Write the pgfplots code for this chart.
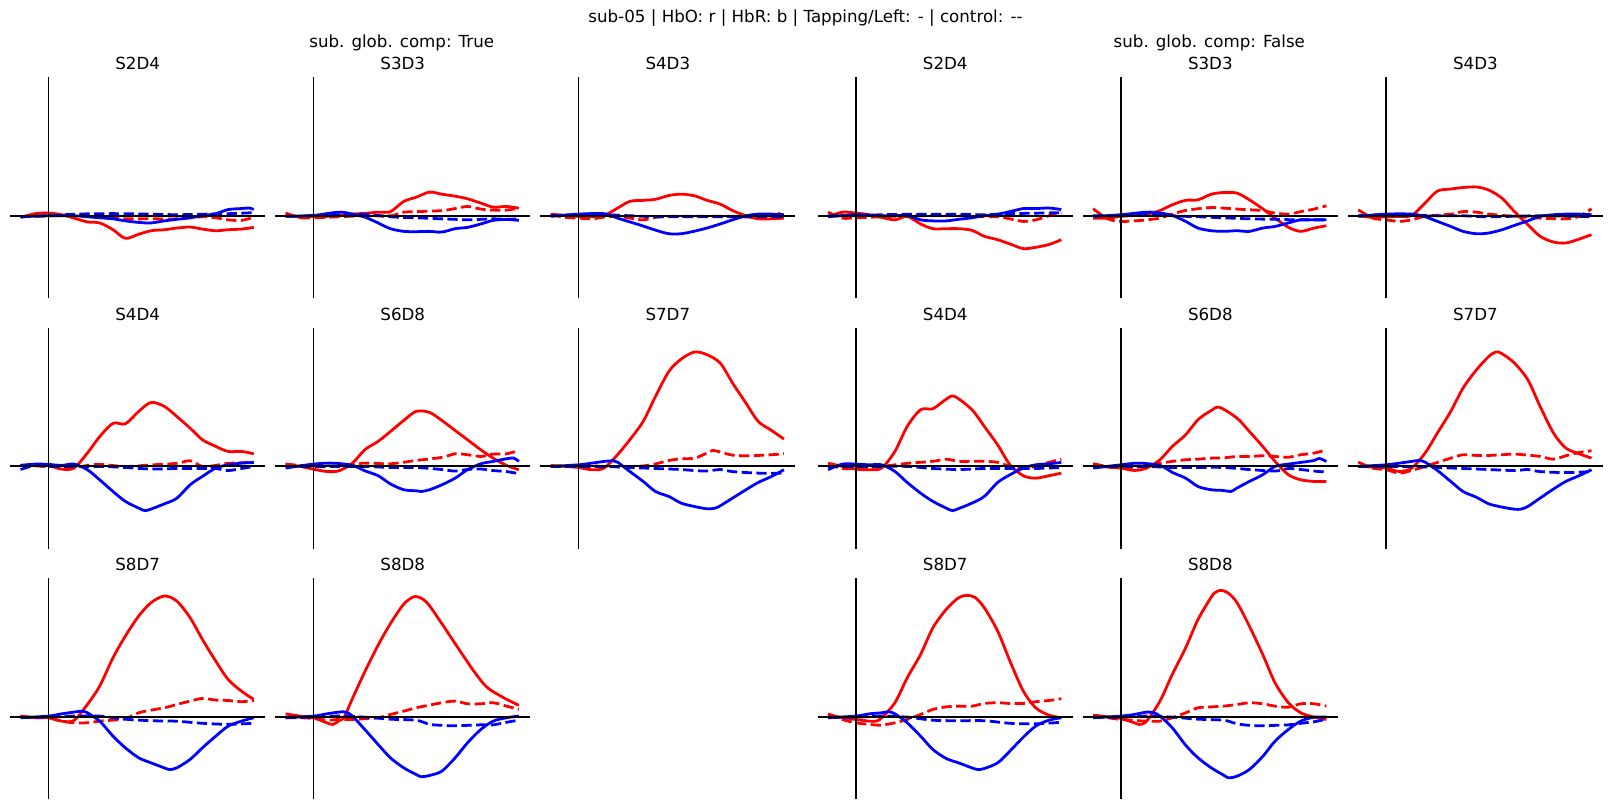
\documentclass[border=0pt]{standalone}
\usepackage{fontspec}
\setmainfont{DejaVu Sans}
\usepackage{pgfplots}
\pgfplotsset{compat=1.18}
\pgfplotsset{
  panel/.style={width=183.45pt,height=159.04pt,scale only axis,
    xmin=-37,xmax=211,ymin=-80,ymax=135,hide axis,clip=false,anchor=south west,
    title style={at={(0.5,1)},anchor=base,yshift=-0.6pt,inner sep=0pt,font=\fontsize{12}{14}\selectfont}},
  hbo/.style={color=red,line width=2pt,smooth},
  hbr/.style={color=blue,line width=2pt,smooth},
  ctl/.style={dash pattern=on 7.4pt off 3.2pt},
  hz/.style={black,line width=1.5pt},
  vt/.style={black,line width=1.1pt},
}
\newcommand{\zerolines}{%
  \addplot[hz] coordinates {(-37,0) (211,0)};
  \addplot[vt] coordinates {(0,-80) (0,135)};}
\begin{document}
\begin{tikzpicture}
\path (0,0) rectangle (1159.85pt,583.62pt);
\node[anchor=base,inner sep=0pt,font=\fontsize{12}{14}\selectfont] at (579.92pt,567.3pt) {sub-05 | HbO: r | HbR: b | Tapping/Left: - | control: -{}-};
\node[anchor=base,inner sep=0pt,font=\fontsize{12}{14}\selectfont] at (289.22pt,549.6pt) {sub. glob. comp: True};
\node[anchor=base,inner sep=0pt,font=\fontsize{12}{14}\selectfont] at (870.63pt,549.6pt) {sub. glob. comp: False};

% ---------- Row 1, left ----------
\begin{axis}[panel,at={(7.40pt,369.11pt)},title={S2D4}]
\addplot[hbo] coordinates {(-27,-1.6)(-13,2)(0,2.6)(13,1)(25,-2.3)(38,-6)(50,-7)(63,-13.6)(75,-22)(88,-18)(100,-14.6)(113,-13.6)(125,-12)(138,-11)(150,-13)(163,-14.6)(175,-13.6)(188,-13)(200,-11.3)};
\addplot[hbo,ctl] coordinates {(-27,-1)(0,0)(25,0)(50,0)(63,-2)(75,-3)(100,-3)(125,-3)(150,-1)(163,-2)(175,-4)(188,-4.5)(200,-1.5)};
\addplot[hbr] coordinates {(-27,-1)(0,0)(25,0)(38,-1)(50,-2)(63,-3)(75,-5)(88,-6.5)(100,-7)(113,-5)(125,-3.5)(138,-2)(150,0)(163,2)(175,6)(188,7)(196,7.5)(200,6)};
\addplot[hbr,ctl] coordinates {(-27,-1)(0,0)(25,1.5)(50,2)(75,2)(100,1.5)(125,1)(150,1.5)(175,2)(200,3)};
\zerolines
\end{axis}
\begin{axis}[panel,at={(198.24pt,369.11pt)},title={S3D3}]
\addplot[hbo] coordinates {(-27,2.6)(-13,-1.6)(0,-0.6)(13,-0.6)(25,0.3)(38,1.6)(50,2.3)(63,3.5)(75,4)(88,14)(100,18)(113,23)(125,21)(138,19)(150,16.5)(163,12.3)(175,8.4)(188,9)(200,7.4)};
\addplot[hbo,ctl] coordinates {(-27,1.5)(-13,-2)(0,-2)(25,-1)(50,0)(75,0)(88,3.5)(100,4)(125,5)(138,7)(150,9)(163,6.5)(175,5.5)(188,5.5)(200,7.4)};
\addplot[hbr] coordinates {(-27,-0.6)(0,0.3)(25,3.5)(38,1.6)(50,-1.3)(63,-7)(75,-12.6)(88,-15.2)(100,-15.5)(113,-15.2)(125,-15.9)(138,-12.6)(150,-11.3)(163,-8)(175,-4.5)(188,-3.6)(200,-4.5)};
\addplot[hbr,ctl] coordinates {(-27,-0.5)(0,0)(25,1)(50,1.5)(75,-1)(100,-2)(125,-3)(138,-3.5)(150,-4)(163,-3.5)(175,-3)(188,-3.5)(200,-3)};
\zerolines
\end{axis}
\begin{axis}[panel,at={(389.08pt,369.11pt)},title={S4D3}]
\addplot[hbo] coordinates {(-27,1.6)(-13,0.3)(0,-0.6)(13,-1)(25,0.3)(38,7.4)(50,14)(63,15)(75,16)(88,19.7)(100,21)(113,19.4)(125,15)(138,11.3)(150,5)(163,0)(175,-3)(188,-3)(200,-2.3)};
\addplot[hbo,ctl] coordinates {(-27,1)(-13,-1.6)(0,-2.3)(13,-3)(25,-1.3)(38,-0.6)(50,-2.3)(63,-4)(75,-1.6)(88,-0.6)(100,-0.6)(125,-0.6)(150,-0.6)(175,-1.6)(188,-0.6)(200,4)};
\addplot[hbr] coordinates {(-27,-0.6)(0,1.6)(25,2)(38,-2.3)(50,-6)(63,-10)(75,-14)(88,-17.5)(100,-17.5)(113,-15)(125,-12)(138,-8)(150,-4)(163,0)(175,1.6)(188,1.6)(200,1)};
\addplot[hbr,ctl] coordinates {(-27,0)(0,1)(25,1)(50,0)(75,-1)(100,-1)(125,-1)(150,-1)(175,-1)(200,-1)};
\zerolines
\end{axis}

% ---------- Row 1, right ----------
\begin{axis}[panel,at={(588.80pt,369.11pt)},title={S2D4}]
\addplot[hbo] coordinates {(-27,-1)(-13,3.5)(0,2.6)(13,1)(25,-1.6)(38,-4)(50,-0.6)(63,-8)(75,-12.6)(88,-12.6)(100,-12.6)(113,-14.2)(125,-20)(138,-23.3)(150,-27.5)(163,-32)(175,-30.7)(188,-28)(200,-23.3)};
\addplot[hbo,ctl] coordinates {(-27,3.5)(-13,-2.3)(0,-2)(25,-1)(50,0)(75,0)(100,0)(125,-1)(138,-1)(150,-3)(163,-5.5)(175,-4)(188,0)(200,3)};
\addplot[hbr] coordinates {(-27,-1)(0,1)(25,0)(50,0)(63,-4)(75,-5)(88,-5)(100,-3.5)(113,-2)(125,0)(138,1.5)(150,4)(163,7)(175,7)(188,7.5)(200,6)};
\addplot[hbr,ctl] coordinates {(-27,0)(0,0)(25,1)(50,1.5)(75,1.5)(100,1.5)(125,1)(150,2)(175,2.5)(200,3)};
\zerolines
\end{axis}
\begin{axis}[panel,at={(779.64pt,369.11pt)},title={S3D3}]
\addplot[hbo] coordinates {(-27,-2.3)(-13,-2.3)(0,-0.6)(13,0.3)(25,1.6)(38,5)(50,10.7)(63,15)(75,15.5)(88,21)(100,22.6)(113,22)(125,15.5)(138,6.8)(150,-2.3)(163,-11.3)(175,-15.2)(188,-12)(200,-9.7)};
\addplot[hbo,ctl] coordinates {(-27,6.8)(-13,-3)(0,-5.5)(13,-5)(25,-4)(38,-2.3)(50,1.6)(63,5.2)(75,6.8)(88,8)(100,7.4)(113,6.5)(125,5.8)(138,5)(150,2.6)(163,1.6)(175,4)(188,6.5)(200,9.7)};
\addplot[hbr] coordinates {(-27,-0.6)(0,1)(25,3.5)(38,2.6)(50,0.3)(63,-5.5)(75,-12)(88,-14.6)(100,-15.2)(113,-14.6)(125,-15.2)(138,-12)(150,-10.4)(163,-7)(175,-4)(188,-4)(200,-4)};
\addplot[hbr,ctl] coordinates {(-27,0)(0,0)(25,2)(50,0)(75,-1)(100,-2)(125,-3)(150,-3.5)(175,-4)(200,-4)};
\zerolines
\end{axis}
\begin{axis}[panel,at={(970.49pt,369.11pt)},title={S4D3}]
\addplot[hbo] coordinates {(-27,0)(-13,-1.6)(0,-1)(13,-0.6)(25,0.3)(38,12.3)(50,24)(63,26)(75,27.5)(88,28)(100,25)(113,17)(125,4)(138,-8.7)(150,-20)(163,-25.6)(175,-26.5)(188,-22.7)(200,-18.4)};
\addplot[hbo,ctl] coordinates {(-27,5.8)(-13,-2.3)(0,-4)(13,-5.5)(25,-4)(38,-0.6)(63,1.6)(75,4)(88,3.5)(100,1.6)(125,-0.6)(150,-2.3)(175,-3)(188,-0.6)(200,6.8)};
\addplot[hbr] coordinates {(-27,-0.6)(0,1.6)(25,1.6)(38,-1)(50,-5.5)(63,-10.4)(75,-15.2)(88,-17.5)(100,-16.8)(113,-13.6)(125,-9.4)(138,-5)(150,-0.6)(163,1)(175,1.6)(188,1.6)(200,1)};
\addplot[hbr,ctl] coordinates {(-27,0)(0,1)(50,0)(75,0)(100,-1)(150,0)(200,-1)};
\zerolines
\end{axis}

% ---------- Row 2, left ----------
\begin{axis}[panel,at={(7.40pt,188.62pt)},title={S4D4}]
\addplot[hbo] coordinates {(-27,1)(-13,1.6)(0,1)(13,-2.6)(25,-1.6)(38,13)(50,29)(63,42)(75,41.5)(88,53.6)(100,62.3)(113,58.4)(125,48.7)(138,37.3)(150,26)(163,19.5)(175,14.6)(188,14.6)(200,12.3)};
\addplot[hbo,ctl] coordinates {(-27,1)(0,0)(25,-1)(38,1)(50,2)(75,0)(100,1.5)(125,3)(138,5.5)(150,0)(163,1)(175,3)(200,4)};
\addplot[hbr] coordinates {(-27,1)(-13,2.3)(0,2)(13,1)(25,2.3)(38,-3.2)(50,-13)(63,-24.4)(75,-34)(88,-40.6)(94,-43)(100,-41.5)(113,-36.4)(125,-31)(138,-17.9)(150,-9.7)(163,-1.6)(175,1.6)(188,3.2)(200,3.9)};
\addplot[hbr,ctl] coordinates {(-27,-3)(-13,1)(0,0)(25,0)(50,0)(75,-1)(100,-2.5)(125,-2)(150,-2)(163,-2)(175,-4)(188,-2)(200,0)};
\zerolines
\end{axis}
\begin{axis}[panel,at={(198.24pt,188.62pt)},title={S6D8}]
\addplot[hbo] coordinates {(-27,2.3)(-13,0)(0,-2.6)(13,-4.9)(25,-4.2)(38,3.2)(50,16.2)(63,24.4)(75,34)(88,44.8)(100,53.6)(113,52.6)(125,44.8)(138,35)(150,26)(163,16.2)(175,8.1)(188,1)(200,-3.2)};
\addplot[hbo,ctl] coordinates {(-27,2.3)(0,0)(25,0.6)(50,3.2)(75,2.6)(100,5.8)(125,8.8)(138,12.3)(150,11.4)(163,9.7)(175,12)(188,12.3)(200,15.6)};
\addplot[hbr] coordinates {(-27,-1.6)(0,2.3)(20,3.2)(38,1)(50,-4.2)(63,-9)(75,-17)(88,-22.7)(100,-23.7)(105,-24.4)(113,-22.7)(125,-17.9)(138,-11.4)(150,-3.2)(163,2.6)(175,4.9)(188,7.5)(195,8.1)(200,4.9)};
\addplot[hbr,ctl] coordinates {(-27,0)(0,0)(25,0)(50,0)(75,-1)(100,-1)(125,-3)(138,-4.5)(150,-3)(163,-2.5)(175,-4)(188,-5)(200,-7)};
\zerolines
\end{axis}
\begin{axis}[panel,at={(389.08pt,188.62pt)},title={S7D7}]
\addplot[hbo] coordinates {(-27,1)(-13,0)(0,-1)(13,-3.2)(25,-1.6)(38,11.4)(50,26)(63,43.8)(75,68.2)(88,92.5)(100,104.5)(113,111.4)(125,108.8)(138,100.6)(150,81.2)(163,61.7)(175,43.8)(188,35)(200,26.6)};
\addplot[hbo,ctl] coordinates {(-27,0)(0,1)(25,0)(50,0)(63,0.5)(75,2.5)(88,5.8)(100,7.5)(113,8)(125,13)(131,15.6)(138,14)(150,11)(163,10.4)(175,10.7)(188,11.4)(200,12.3)};
\addplot[hbr] coordinates {(-27,0)(0,1.6)(13,3.2)(25,4.9)(34,5.5)(38,4.2)(50,-4.9)(63,-14.6)(75,-24.4)(88,-29.2)(100,-35.7)(113,-39)(125,-41.2)(133,-40.6)(138,-38.3)(150,-30.8)(163,-22.7)(175,-15.6)(188,-9.7)(200,-3.2)};
\addplot[hbr,ctl] coordinates {(-27,0)(0,0)(25,0)(50,-1)(75,-2)(100,-3)(113,-4)(125,-4.5)(138,-3)(150,-5)(175,-6.5)(200,-6.5)};
\zerolines
\end{axis}

% ---------- Row 2, right ----------
\begin{axis}[panel,at={(588.80pt,188.62pt)},title={S4D4}]
\addplot[hbo] coordinates {(-27,3.2)(-13,0)(0,-2.6)(13,-3.2)(25,-1.6)(38,14.6)(50,39)(63,55.2)(75,56.2)(88,65.5)(96,68.2)(113,55.2)(125,39)(138,21)(150,1.6)(163,-9)(175,-11.4)(188,-9)(200,-6.5)};
\addplot[hbo,ctl] coordinates {(-27,2)(-13,-2)(0,-2)(25,0)(50,3)(75,5)(88,7)(100,5)(113,5)(125,5)(138,4)(150,0)(163,-2)(175,0)(188,4)(200,7)};
\addplot[hbr] coordinates {(-27,-3.2)(-13,2.3)(0,2.3)(13,1.6)(25,1.6)(38,-4.9)(50,-15.6)(63,-26)(75,-34)(88,-40.6)(94,-43)(100,-41)(113,-35.7)(125,-29.2)(138,-15.6)(150,-8.1)(163,-1.6)(175,1.6)(188,2.6)(200,3.9)};
\addplot[hbr,ctl] coordinates {(-27,0)(0,0)(25,0)(50,0)(75,-2)(100,-3)(125,-2)(150,-2)(175,-2)(200,-1)};
\zerolines
\end{axis}
\begin{axis}[panel,at={(779.64pt,188.62pt)},title={S6D8}]
\addplot[hbo] coordinates {(-27,2.3)(-13,-0.6)(0,-1.6)(13,-3.9)(25,-1.6)(38,6.5)(50,19.5)(63,30.8)(75,45.5)(88,54.5)(96,57.5)(113,47)(125,34)(138,19.5)(150,4.9)(163,-8.1)(175,-13)(188,-14.6)(200,-14.6)};
\addplot[hbo,ctl] coordinates {(-27,2.6)(-13,0)(0,-1.6)(13,-1)(25,0.6)(38,3.2)(50,4.9)(63,6.5)(75,7.1)(88,8.1)(100,8.4)(113,9.7)(125,9.7)(138,10.4)(150,9.7)(163,9)(175,11.4)(188,13)(200,16.2)};
\addplot[hbr] coordinates {(-27,-1.6)(0,1.6)(17,3.2)(38,1)(50,-5.8)(63,-11.4)(75,-19.5)(88,-22.7)(100,-23.4)(107,-24.4)(113,-21)(125,-14.6)(138,-8.1)(150,0)(163,2.3)(175,3.9)(188,5.8)(193,7.8)(200,4.9)};
\addplot[hbr,ctl] coordinates {(-27,0)(0,0)(25,0)(50,-1)(75,-1)(100,-1)(125,-3)(150,-4.5)(163,-2)(175,-3)(188,-4.5)(200,-5.5)};
\zerolines
\end{axis}
\begin{axis}[panel,at={(970.49pt,188.62pt)},title={S7D7}]
\addplot[hbo] coordinates {(-27,0)(-13,-0.6)(0,-1.6)(13,-4.9)(25,-1.6)(38,13)(50,32.5)(63,53.6)(75,76.3)(88,94)(100,107)(107,111.4)(113,109.7)(125,100.6)(138,84.4)(150,58.4)(163,32.5)(175,17.9)(188,12.3)(200,8.1)};
\addplot[hbo,ctl] coordinates {(-27,4.2)(-13,-1.6)(0,-3.2)(13,-6.5)(25,-3.9)(38,0)(50,3.9)(63,8.1)(75,11.4)(88,10.7)(100,10.7)(113,11.4)(125,12)(138,11)(150,9.7)(163,7.1)(175,10.4)(188,13.6)(200,15.3)};
\addplot[hbr] coordinates {(-27,0)(0,1.6)(13,3.2)(25,4.9)(32,5.8)(38,4.2)(50,-3.9)(63,-14.6)(75,-24.4)(88,-30)(100,-36.4)(113,-39.6)(125,-41.6)(131,-41.6)(138,-39)(150,-30.8)(163,-22)(175,-14.6)(188,-9)(200,-3.2)};
\addplot[hbr,ctl] coordinates {(-27,0)(0,0)(25,0)(50,-1)(75,-2)(100,-3)(125,-4)(138,-3)(150,-5)(175,-6)(200,-5)};
\zerolines
\end{axis}

% ---------- Row 3, left ----------
\begin{axis}[panel,at={(7.40pt,8.14pt)},title={S8D7}]
\addplot[hbo] coordinates {(-27,1)(-13,-0.6)(0,-0.6)(13,-3.9)(25,-3.2)(38,12.3)(50,30.2)(63,57.8)(75,78.9)(88,98.4)(100,111.4)(113,117.9)(125,113)(138,96.8)(150,75.6)(163,54.5)(175,36.7)(188,25.3)(200,17.2)};
\addplot[hbo,ctl] coordinates {(-27,1)(-13,-0.6)(0,-0.6)(13,-3.9)(25,-5.5)(38,-5.5)(50,-3.9)(63,-2.9)(75,-1.6)(88,4.2)(100,6.8)(113,9.1)(125,12.3)(138,15.6)(150,18.2)(163,16.6)(175,16.2)(188,15)(200,16.2)};
\addplot[hbr] coordinates {(-27,-0.6)(0,1)(13,3.2)(25,4.9)(33,5.8)(38,4.2)(50,-3.9)(63,-18.5)(75,-29.9)(88,-39.6)(100,-44.5)(113,-49.4)(118,-51)(125,-49.4)(138,-41.2)(150,-29.9)(163,-18.5)(175,-8.8)(188,-3.9)(200,-0.6)};
\addplot[hbr,ctl] coordinates {(-27,0)(0,0)(25,1)(50,1)(75,-2)(100,-3.5)(125,-4)(150,-6)(175,-7)(200,-6)};
\zerolines
\end{axis}
\begin{axis}[panel,at={(198.24pt,8.14pt)},title={S8D8}]
\addplot[hbo] coordinates {(-27,3.2)(-13,1)(0,-0.6)(13,-5.5)(19,-7.1)(25,-3.5)(30,0)(38,18)(50,44)(63,70)(75,91)(88,110)(99,117.4)(110,112)(123,94)(139,70)(156,45)(169,29)(185,19)(200,11.5)};
\addplot[hbo,ctl] coordinates {(-27,-0.6)(-13,-0.6)(0,-1.3)(13,-2.9)(25,-2.3)(38,-2.3)(50,-1.6)(63,-0.6)(75,2.6)(88,5.8)(100,9.1)(113,11.7)(125,14)(138,15.6)(150,13)(163,13)(175,14)(188,10.7)(200,7.5)};
\addplot[hbr] coordinates {(-27,-0.6)(0,1)(13,3.2)(25,4.9)(31,5)(38,1)(50,-12)(63,-26.6)(75,-39.6)(88,-49.4)(100,-55.8)(105,-58)(113,-56.8)(125,-52.6)(138,-39.6)(150,-25)(163,-12)(175,-3.9)(188,-0.6)(200,1)};
\addplot[hbr,ctl] coordinates {(-27,0)(0,0)(25,1)(50,0)(75,-2)(100,-3)(113,-7)(125,-8)(138,-8.5)(150,-8)(163,-7.5)(175,-7.5)(188,-5)(200,-3)};
\zerolines
\end{axis}

% ---------- Row 3, right ----------
\begin{axis}[panel,at={(588.80pt,8.14pt)},title={S8D7}]
\addplot[hbo] coordinates {(-27,2.6)(-13,-0.6)(0,-2.3)(13,-3.9)(20,-3.9)(25,-0.6)(38,14)(50,38.3)(63,61)(75,87)(88,104.9)(100,116.2)(108,118.5)(116,116.5)(125,106.5)(138,83.8)(150,54.5)(163,25.3)(175,9.1)(188,1.9)(200,-0.6)};
\addplot[hbo,ctl] coordinates {(-27,3.2)(-13,-2.3)(0,-5.5)(13,-7.1)(25,-7.8)(38,-5.5)(50,-2.3)(63,2.6)(75,7.5)(88,10)(100,10.7)(113,10.7)(125,13.3)(138,14)(150,13.3)(163,13.3)(175,15)(188,16.2)(200,17.9)};
\addplot[hbr] coordinates {(-27,-0.6)(0,1)(13,3.2)(25,4.2)(32,5.2)(38,3.2)(50,-5.5)(63,-18.5)(75,-31.5)(88,-40.3)(100,-44.5)(113,-49.4)(119,-51)(125,-50)(138,-44.5)(150,-33)(163,-19.5)(175,-8.8)(188,-2.9)(200,-0.6)};
\addplot[hbr,ctl] coordinates {(-27,0)(0,0)(25,1)(50,0)(75,-3)(100,-3.5)(125,-3.5)(150,-6)(175,-6.5)(200,-5)};
\zerolines
\end{axis}
\begin{axis}[panel,at={(779.64pt,8.14pt)},title={S8D8}]
\addplot[hbo] coordinates {(-27,1.9)(-13,0.3)(0,-1.3)(13,-5.5)(18,-7.1)(25,-3.9)(38,15.6)(50,41.6)(63,67.5)(75,95)(88,117)(92,121.4)(97,123.4)(104,121.1)(113,111.4)(125,88.6)(138,61)(150,33.4)(163,14)(175,4.2)(188,0)(200,-2.3)};
\addplot[hbo,ctl] coordinates {(-27,1.6)(-13,-0.6)(0,-2.3)(13,-3.2)(25,-3.9)(38,-3.9)(50,-0.6)(63,4.2)(75,9.1)(88,10)(100,10.7)(113,12.3)(125,14)(138,13)(150,10.7)(163,9.7)(175,13)(188,13)(200,10.7)};
\addplot[hbr] coordinates {(-27,-0.6)(0,1)(13,2.6)(25,4.9)(32,4.2)(38,1)(50,-10.4)(63,-27.3)(75,-39.6)(88,-49.4)(100,-56.5)(105,-59.1)(113,-57.5)(125,-51)(138,-38.3)(150,-23.4)(163,-12)(175,-3.9)(188,0)(200,0)};
\addplot[hbr,ctl] coordinates {(-27,0)(0,0)(25,1)(50,0)(75,-2)(100,-3)(113,-6.5)(125,-8)(138,-8.5)(150,-8)(163,-7.5)(175,-6)(188,-4.5)(200,-2)};
\zerolines
\end{axis}
\end{tikzpicture}
\end{document}
